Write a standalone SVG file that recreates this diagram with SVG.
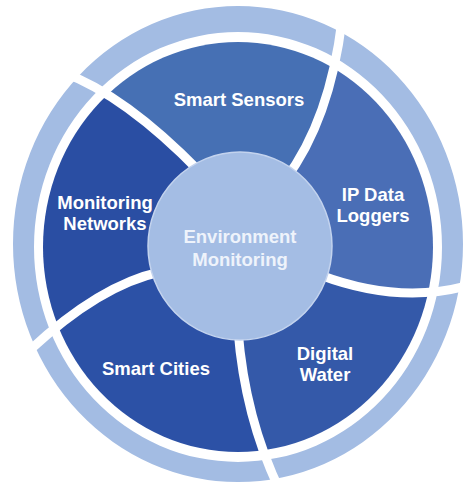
<svg xmlns="http://www.w3.org/2000/svg" width="464" height="490" viewBox="0 0 464 490">
<defs>
<style>
.lbl{font-family:"Liberation Sans",Arial,sans-serif;font-weight:bold;font-size:18.5px;fill:#ffffff;text-anchor:middle}
.ctr{fill:#eef3fb}
.sep{fill:none;stroke:#ffffff;stroke-width:9}
</style>
<clipPath id="disk"><ellipse cx="238" cy="247" rx="195" ry="205"/></clipPath>
</defs>
<rect width="464" height="490" fill="#ffffff"/>
<path id="ring" fill="#a3bce3" fill-rule="evenodd" d="M13,244 a225,238 0 1,0 450,0 a225,238 0 1,0 -450,0 Z M34,247 a204,215 0 1,0 408,0 a204,215 0 1,0 -408,0 Z"/>
<g clip-path="url(#disk)">
<g id="smart-sensors"><path fill="#4670b4" d="M240,246 L200,172 Q125,95 62,72 L240,-200 L342,20 Q330,120 285,180 Z"/></g>
<g id="ip-data-loggers"><path fill="#4a6eb6" d="M240,246 L285,180 Q330,120 342,20 L640,0 L470,285 Q400,305 320,275 Z"/></g>
<g id="digital-water"><path fill="#3459a9" d="M240,246 L320,275 Q400,305 470,285 L600,600 L282,495 Q245,420 238,330 Z"/></g>
<g id="smart-cities"><path fill="#2c51a6" d="M240,246 L238,330 Q245,420 282,495 L-50,600 L30,350 Q100,285 160,272 Z"/></g>
<g id="monitoring-networks"><path fill="#2a4ea3" d="M240,246 L160,272 Q100,285 30,350 L-150,150 L62,72 Q125,95 200,172 Z"/></g>
</g>
<g id="connectors">
<path class="sep" d="M200,172 Q125,95 62,72"/>
<path class="sep" d="M285,180 Q330,120 342,20"/>
<path class="sep" d="M320,275 Q400,305 470,285"/>
<path class="sep" d="M238,330 Q245,420 282,495"/>
<path class="sep" d="M160,272 Q100,285 30,350"/>
</g>
<g id="environment-monitoring">
<ellipse cx="240" cy="246" rx="92" ry="94" fill="#a4bde4" stroke="#c3d3ee" stroke-width="1.5"/>
<text class="lbl ctr" x="240" y="243">Environment</text>
<text class="lbl ctr" x="240" y="266">Monitoring</text>
</g>
<g id="t-smart-sensors"><text class="lbl" x="239" y="106">Smart Sensors</text></g>
<g id="t-ip"><text class="lbl" x="373" y="201">IP Data</text><text class="lbl" x="373" y="222">Loggers</text></g>
<g id="t-mn"><text class="lbl" x="105" y="209">Monitoring</text><text class="lbl" x="105" y="230">Networks</text></g>
<g id="t-sc"><text class="lbl" x="156" y="375">Smart Cities</text></g>
<g id="t-dw"><text class="lbl" x="325" y="360">Digital</text><text class="lbl" x="325" y="381">Water</text></g>
</svg>
